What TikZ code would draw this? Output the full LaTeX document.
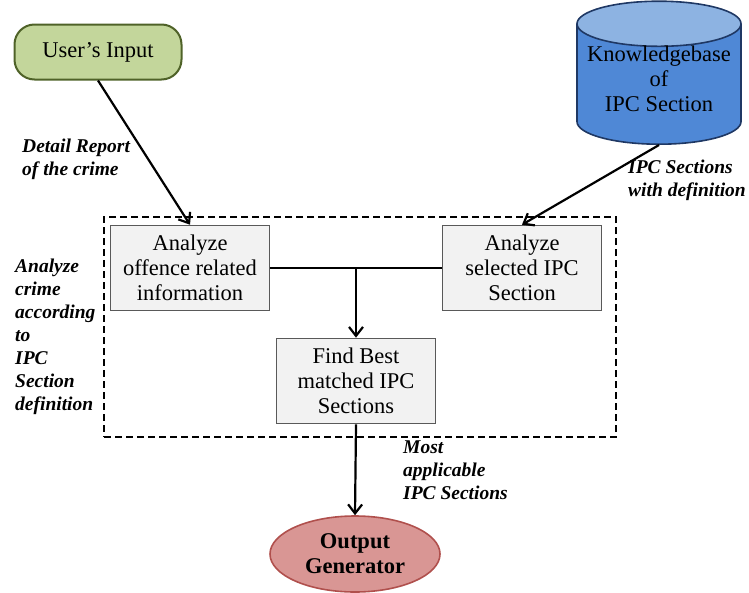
\documentclass[tikz,border=0pt]{standalone}
\usepackage{fontspec}
\setmainfont{Liberation Serif}
\usetikzlibrary{positioning,arrows.meta,shapes.geometric}
\definecolor{inputfill}{HTML}{C3D69B}
\definecolor{inputline}{HTML}{4F6228}
\definecolor{kbbody}{HTML}{4F88D6}
\definecolor{kbtop}{HTML}{8DB3E2}
\definecolor{kbline}{HTML}{1F3864}
\definecolor{stepfill}{HTML}{F2F2F2}
\definecolor{stepline}{HTML}{595959}
\definecolor{outfill}{HTML}{D99694}
\definecolor{outline}{HTML}{B0504D}
\tikzset{
  inbox/.style={rectangle,rounded corners=20pt,draw=inputline,fill=inputfill,line width=2pt,minimum width=167pt,minimum height=55pt,font=\fontsize{22.5}{25}\selectfont},
  kb/.style={cylinder,shape border rotate=90,aspect=0.3,draw=kbline,line width=1.6pt,cylinder uses custom fill,cylinder body fill=kbbody,cylinder end fill=kbtop,minimum width=164pt,minimum height=143pt,align=center,font=\fontsize{22.5}{25}\selectfont},
  kbtext/.style={align=center,inner sep=0pt,font=\fontsize{22.5}{25}\selectfont},
  stepbox/.style={rectangle,draw=stepline,fill=stepfill,line width=1.6pt,minimum width=159pt,minimum height=85pt,align=center,font=\fontsize{22.5}{25}\selectfont},
  outnode/.style={ellipse,draw=outline,fill=outfill,line width=1.6pt,minimum width=170pt,minimum height=76pt,align=center,font=\bfseries\fontsize{22.5}{25}\selectfont},
  grpbox/.style={rectangle,draw,dashed,dash pattern=on 7pt off 4pt,line width=2pt,minimum width=512pt,minimum height=220pt},
  note/.style={anchor=north west,inner sep=0pt,align=left,font=\bfseries\itshape\fontsize{19.5}{23}\selectfont},
  edge/.style={-{Straight Barb[length=9pt,width=14pt]},line width=2.2pt},
  link/.style={line width=2pt}
}
\begin{document}
\begin{tikzpicture}[x=1pt,y=-1pt]
\useasboundingbox (0,0) rectangle (749,592);
\node[grpbox] (grp) at (360,327) {};
\node[inbox] (user) at (98,52) {User's Input};
\node[kb,anchor=south] (kbase) at (659,145) {\phantom{Knowledgebase}\\\phantom{of}\\\phantom{IPC Section}};
\node[kbtext] (kbtxt) at (659,79) {Knowledgebase\\of\\IPC Section};
\node[stepbox] (offence) at (190,268) {Analyze\\offence related\\information};
\node[stepbox] (select) at (522,268) {Analyze\\selected IPC\\Section};
\node[stepbox] (best) at (356,381) {Find Best\\matched IPC\\Sections};
\node[outnode] (gen) at (355,554) {Output\\Generator};
% connectors
\draw[edge] (user.south) -- (offence.north);
\draw[edge] (kbase.south) -- (select.north);
\draw[link] (offence.east) -- (select.west);
\coordinate (mid) at (best.north |- offence.east);
\draw[edge] (mid) -- (best.north);
\draw[edge] (best.south) -- (gen.north);
% labels
\node[note] (lreport) at (22,139) {Detail Report\\of the crime};
\node[note] (ldef) at (628,160) {IPC Sections\\with definition};
\node[note] (lgrp) at (15,259) {Analyze\\crime\\according\\to\\IPC\\Section\\definition};
\node[note] (lmost) at (403,441) {Most\\applicable\\IPC Sections};
\end{tikzpicture}
\end{document}
